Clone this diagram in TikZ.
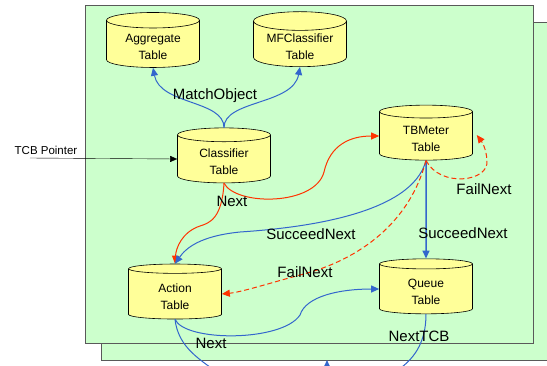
\documentclass[tikz,border=0pt]{standalone}
\usepackage{fontspec}
\setmainfont{Liberation Sans}
\usepackage{tikz}
\usetikzlibrary{shapes.geometric,arrows.meta,positioning}

\definecolor{bggreen}{HTML}{CCFFCC}
\definecolor{tblyellow}{HTML}{FFFF99}
\definecolor{flowblue}{HTML}{3366CC}
\definecolor{flowred}{HTML}{FF3300}

% table text, set a little below the centre of the cylinder
\newcommand{\tbltxt}[1]{\raisebox{-6.5pt}[0pt][0pt]{\begin{tabular}{@{}c@{}}#1\\Table\end{tabular}}}

\begin{document}
\begin{tikzpicture}[x=1pt, y=-1pt,
  tbl/.style={cylinder, shape border rotate=90, aspect=0.28, draw, semithick,
              fill=tblyellow, minimum width=93pt, minimum height=55pt,
              inner sep=0pt, font=\fontsize{12}{16.5}\selectfont},
  lbl/.style={font=\fontsize{15}{17}\selectfont, inner sep=0pt},
  tip/.style={-{Triangle[length=8pt,width=7pt]}},
  suc/.style={tip, flowblue, line width=1pt},
  nxt/.style={tip, flowred, line width=1pt},
  fail/.style={tip, flowred, dashed, dash pattern=on 5pt off 3pt, line width=1pt}
]
\useasboundingbox (0,0) rectangle (547,365);
\clip (0,0) rectangle (547,365);

% ======= panels =======
\draw[fill=bggreen, draw=black!65, semithick] (101,22) rectangle (570,360);
\draw[fill=bggreen, draw=black!65, semithick] (85,5) rectangle (533,343);

% ======= tables =======
\node[tbl] (agg) at (153,44)  {\tbltxt{Aggregate}};
\node[tbl] (mfc) at (300,44)  {\tbltxt{MFClassifier}};
\node[tbl] (cls) at (224,159) {\tbltxt{Classifier}};
\node[tbl] (tbm) at (426,136) {\tbltxt{TBMeter}};
\node[tbl] (act) at (175,294) {\tbltxt{Action}};
\node[tbl] (que) at (426,289) {\tbltxt{Queue}};

% ======= outside ends =======
\coordinate (tcb) at (30,158);
\coordinate (actout) at (214,370);
\coordinate (queout) at (398,370);
\coordinate (inbot) at (327,385);
\coordinate (intip) at (327,360);

% ======= TCB pointer =======
\draw[-{Triangle[length=7pt,width=6pt]}] (tcb) -- (cls.west);
\node[font=\fontsize{11.5}{14}\selectfont, inner sep=0pt] (tcblbl) at (46,150) {TCB Pointer};

% ======= MatchObject =======
\draw[suc] (cls.north) .. controls (224,100) and (160,105) .. (agg.south);
\draw[suc] (cls.north) .. controls (224,100) and (293,105) .. (mfc.south);
\node[lbl] (match) at (215,96) {MatchObject};

% ======= Classifier out =======
\draw[nxt] (cls.south) .. controls (236,206) and (315,206) .. (324,172)
  .. controls (330,145) and (350,136) .. (tbm.west);
\draw[nxt] (cls.south) .. controls (222,218) and (210,223) .. (200,226)
  .. controls (182,232) and (176,248) .. (act.north);
\node[lbl] (nxtcls) at (232,201) {Next};

% ======= TBMeter out =======
\draw[suc] (tbm.south) .. controls (412,215) and (300,228) .. (240,232)
  .. controls (200,236) and (186,248) .. (act.north);
\draw[suc, line width=1.5pt] (tbm.south) -- (que.north);
\draw[fail] (tbm.south) .. controls (440,188) and (490,182) .. (487,160)
  .. controls (486,148) and (482,142) .. ([xshift=4pt,yshift=1pt]tbm.east);
\draw[fail] (tbm.south) .. controls (410,222) and (360,260) .. (300,275)
  .. controls (270,283) and (242,292) .. (act.east);
\node[lbl] (sucl) at (311,234) {SucceedNext};
\node[lbl] (sucr) at (463,233) {SucceedNext};
\node[lbl] (faill) at (305,272) {FailNext};
\node[lbl] (failr) at (484,189) {FailNext};

% ======= Action / Queue out =======
\draw[suc] (act.south) .. controls (185,342) and (282,342) .. (300,315)
  .. controls (306,296) and (340,289) .. (que.west);
\draw[flowblue, line width=1pt] (act.south) .. controls (178,345) and (196,357) .. (actout);
\draw[flowblue, line width=1pt] (que.south) .. controls (426,345) and (412,360) .. (queout);
\draw[suc, line width=1.5pt] (inbot) -- (intip);
\node[lbl] (nxtact) at (211,343) {Next};
\node[lbl] (nxtq) at (419,336) {NextTCB};

\end{tikzpicture}
\end{document}
